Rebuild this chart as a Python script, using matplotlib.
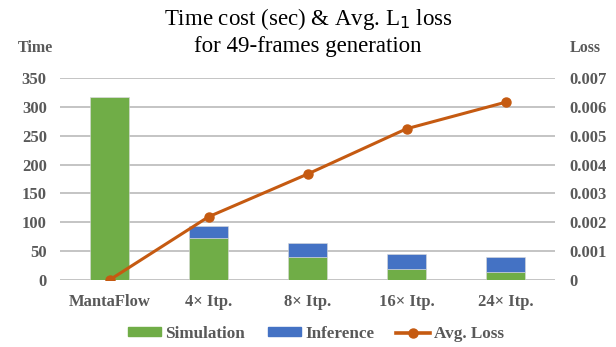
import numpy as np
import matplotlib.pyplot as plt
from matplotlib.lines import Line2D
from matplotlib.patches import Patch

methods = ['MantaFlow', '4× Itp.', '8× Itp.', '16× Itp.', '24× Itp.']
simulation = [317, 73, 39, 19, 13]
inference = [0, 21, 25, 26, 27]
avg_loss = [0.0, 0.00219, 0.00367, 0.00524, 0.00616]

time_ticks = [0, 50, 100, 150, 200, 250, 300, 350]
loss_ticks = [0, 0.001, 0.002, 0.003, 0.004, 0.005, 0.006, 0.007]

green = '#70AD47'
blue = '#4472C4'
orange = '#C55A11'
grey = '#595959'
serif = 'Liberation Serif'

fig = plt.figure(figsize=(6.16, 3.47), dpi=100)
ax = fig.add_axes([60 / 616, 1 - 280 / 347, 495 / 616, 202 / 347])
x = np.arange(len(methods))

ax.bar(x, simulation, width=0.4, color=green, edgecolor='#d9d9d9', linewidth=0.4, zorder=2)
ax.bar(x, inference, width=0.4, bottom=simulation, color=blue, edgecolor='#d9d9d9', linewidth=0.4, zorder=2)
ax.set_xlim(-0.5, len(methods) - 0.5)
ax.set_ylim(0, 350)
ax.set_yticks(time_ticks)
ax.grid(axis='y', color='#bfbfbf', linewidth=1.3, zorder=0)
ax.set_axisbelow(True)
for s in ax.spines.values():
    s.set_visible(False)
ax.tick_params(axis='y', length=0, pad=9.5)
ax.set_xticks(x)
ax.set_xticklabels(methods)
ax.tick_params(axis='x', length=0, pad=10)

ax2 = ax.twinx()
ax2.plot(x, avg_loss, color=orange, linewidth=2.2, marker='o', markersize=6.5, zorder=3)
ax2.set_ylim(0, 0.007)
ax2.set_yticks(loss_ticks)
ax2.set_yticklabels(['0'] + ['%.3f' % v for v in loss_ticks[1:]])
for s in ax2.spines.values():
    s.set_visible(False)
ax2.tick_params(length=0, pad=10)

for a in (ax, ax2):
    for lab in a.get_xticklabels() + a.get_yticklabels():
        lab.set_fontfamily(serif)
        lab.set_fontweight('bold')
        lab.set_fontsize(12)
        lab.set_color(grey)

# title: two centred lines, anchored on the baseline of the second line
fig.text(0.5, 1 - 52 / 347, 'Time cost (sec) & Avg. L$_1$ loss\nfor 49-frames generation',
         ha='center', va='baseline', fontsize=16.5, family=serif, linespacing=1.25,
         multialignment='center')
fig.text(35.5 / 616, 1 - 48 / 347, 'Time', ha='center', va='center', fontsize=11.5,
         family=serif, weight='bold', color=grey)
fig.text(585 / 616, 1 - 48 / 347, 'Loss', ha='center', va='center', fontsize=11.5,
         family=serif, weight='bold', color=grey)

handles = [Patch(color=green), Patch(color=blue),
           Line2D([0], [0], color=orange, linewidth=2.6, marker='o', markersize=6.5)]
fig.legend(handles, ['Simulation', 'Inference', 'Avg. Loss'], loc='center',
           bbox_to_anchor=(316 / 616, 1 - 334 / 347), ncol=3, frameon=False,
           prop={'family': serif, 'weight': 'bold', 'size': 12.3},
           labelcolor=grey, handlelength=1.95, handleheight=0.42,
           handletextpad=0.25, columnspacing=1.3)

fig.savefig('out.png', dpi=100)
